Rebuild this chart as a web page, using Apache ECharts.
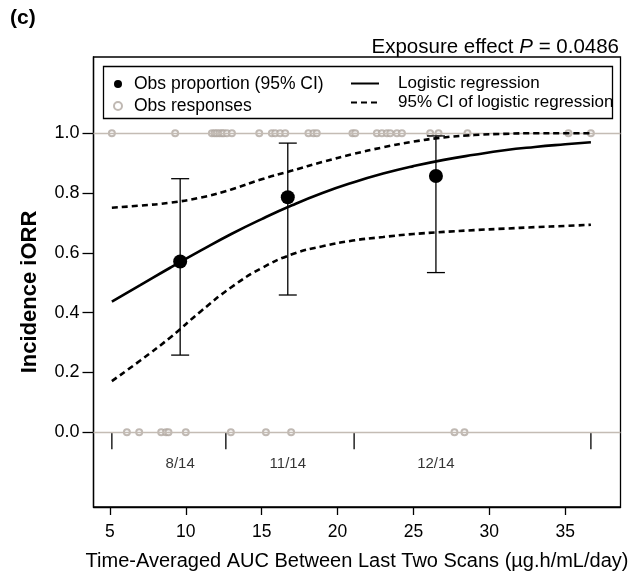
<!DOCTYPE html>
<html>
<head>
<meta charset="utf-8">
<script src="https://cdn.jsdelivr.net/npm/echarts@6/dist/echarts.min.js"></script>
<style>
  html, body { margin: 0; padding: 0; background: #fff; }
  #chart { width: 633px; height: 576px; }
</style>
</head>
<body>
<div id="chart"></div>
<script>
var xTicks = [5, 10, 15, 20, 25, 30, 35];
var yTicks = [0, 0.2, 0.4, 0.6, 0.8, 1.0];

// individual observations: responders at 1, non-responders at 0
var respX = [5.13, 9.30, 11.72, 11.90, 12.05, 12.22, 12.38, 12.50,
             12.71, 13.04, 14.84, 15.67, 15.89, 16.22, 16.55, 18.08, 18.41, 18.63, 20.98,
             21.16, 22.59, 22.92, 23.25, 23.47, 23.91, 24.24, 26.10, 26.65, 28.56, 35.21, 36.69];
var nonRespX = [6.12, 6.93, 8.38, 8.70, 8.86, 10.00, 12.97, 15.28, 16.94, 27.70, 28.36];

// observed proportion per exposure group
var groupX = [9.63, 16.72, 26.48];
var groupProp = [0.571, 0.786, 0.857];
var groupLo = [0.258, 0.459, 0.534];
var groupHi = [0.848, 0.967, 0.991];
var groupLabels = ['8/14', '11/14', '12/14'];
var binEdges = [5.13, 12.64, 21.09, 36.69];

// logistic regression and its 95% CI
var fitX = [5.13, 7, 9, 11, 13, 15, 17, 19, 21, 23, 25, 27, 29, 31, 33, 35, 36.69];
var fitY = [0.437, 0.492, 0.551, 0.608, 0.663, 0.713, 0.759, 0.800, 0.835, 0.865, 0.890, 0.911, 0.928, 0.943, 0.954, 0.963, 0.970];
var ciHi = [0.751, 0.758, 0.768, 0.785, 0.812, 0.846, 0.875, 0.904, 0.930, 0.953, 0.972, 0.986, 0.994, 0.998, 1.0, 1.0, 1.0];
var ciLo = [0.171, 0.240, 0.318, 0.405, 0.485, 0.549, 0.595, 0.622, 0.641, 0.653, 0.663, 0.670, 0.676, 0.681, 0.686, 0.690, 0.694];

var FONT = 'Liberation Sans, Arial, sans-serif';
var greyLine = '#c4bcb4';
var greyDot = '#b0a8a0';

function zip(xs, ys) {
    return xs.map(function (x, i) { return [x, ys[i]]; });
}

var myChart = echarts.init(document.getElementById('chart'));

option = {
    animation: false,
    textStyle: { fontFamily: FONT, color: '#000' },
    title: {
        text: 'Exposure effect {i|P} = 0.0486',
        right: 9,
        top: 32,
        textStyle: {
            fontFamily: FONT, fontSize: 20.5, fontWeight: 'normal', color: '#000',
            rich: { i: { fontFamily: FONT, fontSize: 20.5, fontStyle: 'italic', color: '#000' } }
        }
    },
    graphic: [
        { type: 'text', left: 10, top: 8, style: { text: '(c)', font: 'bold 21px ' + FONT, fill: '#000' } },
        { type: 'rect', left: 101, top: 64, shape: { width: 509, height: 52 },
          style: { fill: 'none', stroke: '#000', lineWidth: 1.3 }, z: 10 }
    ],
    legend: [
        {
            left: 108, top: 70, orient: 'vertical', itemWidth: 8, itemHeight: 8, itemGap: 4,
            data: ['Obs proportion (95% CI)', 'Obs responses'],
            textStyle: { fontFamily: FONT, fontSize: 17.5, color: '#000', padding: [0, 0, 0, 7] }
        },
        {
            left: 345, top: 70, orient: 'vertical', itemWidth: 28, itemHeight: 14, itemGap: 2,
            data: ['Logistic regression', '95% CI of logistic regression'],
            itemStyle: { color: 'rgba(0,0,0,0)', borderWidth: 0 },
            textStyle: { fontFamily: FONT, fontSize: 17, color: '#000', padding: [0, 0, 0, 14] }
        }
    ],
    grid: {
        left: 93.5, right: 12.5, top: 57, bottom: 67.5,
        show: true, borderColor: '#000', borderWidth: 1.3, backgroundColor: 'transparent'
    },
    xAxis: {
        type: 'value', min: 3.92, max: 38.64,
        name: 'Time-Averaged AUC Between Last Two Scans (\u00b5g.h/mL/day)',
        nameLocation: 'middle', nameGap: 44,
        nameTextStyle: { fontFamily: FONT, fontSize: 20, color: '#000' },
        axisLine: { show: true, onZero: false, lineStyle: { color: '#000', width: 1.3 } },
        axisTick: { show: true, customValues: xTicks, length: 8, lineStyle: { color: '#000', width: 1.3 } },
        axisLabel: { customValues: xTicks, margin: 16, fontFamily: FONT, fontSize: 17.5, color: '#000' },
        splitLine: { show: false }
    },
    yAxis: {
        type: 'value', min: -0.25, max: 1.255,
        name: 'Incidence iORR',
        nameLocation: 'middle', nameGap: 53,
        nameTextStyle: { fontFamily: FONT, fontSize: 22, fontWeight: 'bold', color: '#000', padding: [0, 20, 0, 0] },
        axisLine: { show: true, onZero: false, lineStyle: { color: '#000', width: 1.3 } },
        axisTick: { show: true, customValues: yTicks, length: 11, lineStyle: { color: '#000', width: 1.3 } },
        axisLabel: {
            customValues: yTicks, margin: 14, fontFamily: FONT, fontSize: 18, color: '#000',
            formatter: function (v) { return v.toFixed(1); }
        },
        splitLine: { show: false }
    },
    series: [
        {
            name: 'Obs responses',
            type: 'scatter',
            symbol: 'emptyCircle',
            symbolSize: 6,
            itemStyle: { color: greyDot, borderColor: greyDot, borderWidth: 1 },
            data: respX.map(function (x) { return [x, 1]; })
                .concat(nonRespX.map(function (x) { return [x, 0]; })),
            markLine: {
                silent: true, symbol: 'none', animation: false,
                label: { show: false },
                lineStyle: { color: greyLine, width: 1.3, type: 'solid' },
                data: [{ yAxis: 0 }, { yAxis: 1 }]
            },
            z: 2
        },
        {
            name: 'bins',
            type: 'custom',
            silent: true,
            renderItem: function (params, api) {
                var p = api.coord([api.value(0), 0]);
                return {
                    type: 'line',
                    shape: { x1: p[0], y1: p[1], x2: p[0], y2: p[1] + 17 },
                    style: { stroke: '#000', lineWidth: 1.3 }
                };
            },
            data: binEdges.map(function (x) { return [x, 0]; }),
            z: 3
        },
        {
            name: 'group labels',
            type: 'scatter',
            symbolSize: 0,
            silent: true,
            label: {
                show: true, position: 'inside', formatter: '{b}',
                fontFamily: FONT, fontSize: 15, color: '#000'
            },
            data: groupX.map(function (x, i) { return { name: groupLabels[i], value: [x, -0.106] }; })
        },
        {
            name: 'error bars',
            type: 'custom',
            silent: true,
            renderItem: function (params, api) {
                var top = api.coord([api.value(0), api.value(2)]);
                var bot = api.coord([api.value(0), api.value(1)]);
                var w = 9;
                var st = { stroke: '#000', lineWidth: 1.3 };
                return {
                    type: 'group',
                    children: [
                        { type: 'line', shape: { x1: top[0], y1: top[1], x2: bot[0], y2: bot[1] }, style: st },
                        { type: 'line', shape: { x1: top[0] - w, y1: top[1], x2: top[0] + w, y2: top[1] }, style: st },
                        { type: 'line', shape: { x1: bot[0] - w, y1: bot[1], x2: bot[0] + w, y2: bot[1] }, style: st }
                    ]
                };
            },
            data: groupX.map(function (x, i) { return [x, groupLo[i], groupHi[i]]; }),
            z: 4
        },
        {
            name: 'Logistic regression',
            type: 'line',
            symbol: 'none',
            smooth: true,
            lineStyle: { color: '#000', width: 2.6, type: 'solid' },
            itemStyle: { color: '#000' },
            data: zip(fitX, fitY),
            z: 5
        },
        {
            name: '95% CI of logistic regression',
            type: 'line',
            symbol: 'none',
            smooth: true,
            lineStyle: { color: '#000', width: 2.6, type: [6, 4] },
            itemStyle: { color: '#000' },
            data: zip(fitX, ciHi),
            z: 5
        },
        {
            name: '95% CI of logistic regression',
            type: 'line',
            symbol: 'none',
            smooth: true,
            lineStyle: { color: '#000', width: 2.6, type: [6, 4] },
            itemStyle: { color: '#000' },
            data: zip(fitX, ciLo),
            z: 5
        },
        {
            name: 'Obs proportion (95% CI)',
            type: 'scatter',
            symbol: 'circle',
            symbolSize: 14,
            itemStyle: { color: '#000', opacity: 1 },
            data: zip(groupX, groupProp),
            z: 6
        }
    ]
};

myChart.setOption(option);
</script>
</body>
</html>
